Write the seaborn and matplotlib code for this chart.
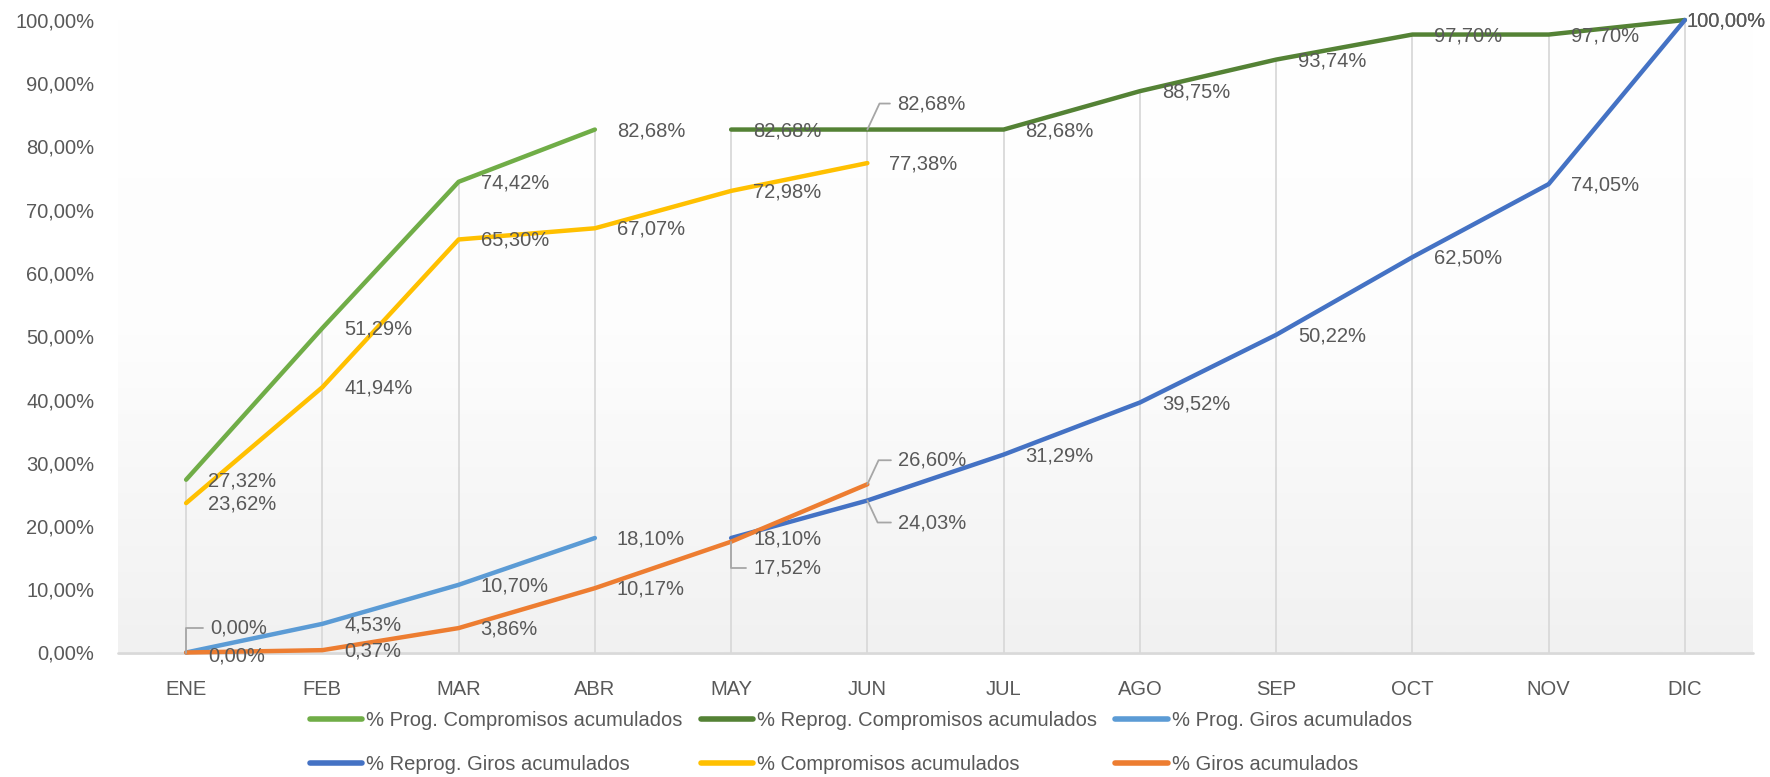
import numpy as np
import pandas as pd
import matplotlib
matplotlib.use('Agg')
import matplotlib.pyplot as plt
from matplotlib.colors import LinearSegmentedColormap
from matplotlib.ticker import FuncFormatter
import seaborn as sns

## Datos
meses = ['ENE', 'FEB', 'MAR', 'ABR', 'MAY', 'JUN', 'JUL', 'AGO', 'SEP', 'OCT', 'NOV', 'DIC']
nan = np.nan
prog_compromisos = [27.32, 51.29, 74.42, 82.68, nan, nan, nan, nan, nan, nan, nan, nan]
reprog_compromisos = [nan, nan, nan, nan, 82.68, 82.68, 82.68, 88.75, 93.74, 97.70, 97.70, 100.00]
prog_giros = [0.00, 4.53, 10.70, 18.10, nan, nan, nan, nan, nan, nan, nan, nan]
reprog_giros = [nan, nan, nan, nan, 18.10, 24.03, 31.29, 39.52, 50.22, 62.50, 74.05, 100.00]
compromisos = [23.62, 41.94, 65.30, 67.07, 72.98, 77.38, nan, nan, nan, nan, nan, nan]
giros = [0.00, 0.37, 3.86, 10.17, 17.52, 26.60, nan, nan, nan, nan, nan, nan]

series = {
    '% Prog. Compromisos acumulados': prog_compromisos,
    '% Reprog. Compromisos acumulados': reprog_compromisos,
    '% Prog. Giros acumulados': prog_giros,
    '% Reprog. Giros acumulados': reprog_giros,
    '% Compromisos acumulados': compromisos,
    '% Giros acumulados': giros,
}
colores = ['#70AD47', '#548235', '#5B9BD5', '#4472C4', '#FFC000', '#ED7D31']
nombres = list(series.keys())
paleta = dict(zip(nombres, colores))

# tabla larga para seaborn
filas = []
for nombre, valores in series.items():
    for i, v in enumerate(valores):
        if not np.isnan(v):
            filas.append({'x': i, 'mes': meses[i], 'valor': v, 'serie': nombre})
df = pd.DataFrame(filas)

sns.set_style('white')
plt.rcParams['font.family'] = ['Liberation Sans', 'DejaVu Sans']
gris_texto = '#595959'
fs = 14.5

fig = plt.figure(figsize=(17.7, 7.77), dpi=100)
ax = fig.add_axes([118 / 1770, 1 - 652.5 / 777, (1753 - 118) / 1770, (652.5 - 20) / 777])

# fondo degradado del area de trazado
cmap_fondo = LinearSegmentedColormap.from_list('fondo', ['#FFFFFF', '#FDFDFD', '#F1F1F1'])
ax.imshow(np.linspace(0, 1, 256).reshape(-1, 1), extent=[-0.5, 11.5, 0, 100],
          cmap=cmap_fondo, aspect='auto', zorder=0)

# lineas de caida
matriz = np.array(list(series.values()))
topes = np.nanmax(matriz, axis=0)
ax.vlines(np.arange(len(meses)), 0, topes, color='#D9D9D9', lw=1.3, zorder=1)
ax.axhline(0, color='#D9D9D9', lw=2, zorder=1)

sns.lineplot(data=df, x='x', y='valor', hue='serie', hue_order=nombres, palette=paleta,
             linewidth=3.2, ax=ax, sort=False, zorder=3)
for ln in ax.lines:
    ln.set_clip_on(False)
    ln.set_solid_capstyle('round')

# etiquetas de datos
especiales = {
    ('% Reprog. Compromisos acumulados', 'JUN'): (30, 26, 65),
    ('% Giros acumulados', 'JUN'): (31, 24, 65),
    ('% Reprog. Giros acumulados', 'JUN'): (31, -22, -65),
    ('% Giros acumulados', 'MAY'): (22, -26, 90),
    ('% Prog. Giros acumulados', 'ENE'): (24, 25, 90),
}
for nombre, valores in series.items():
    for i, v in enumerate(valores):
        if np.isnan(v):
            continue
        txt = f'{v:.2f}'.replace('.', ',') + '%'
        clave = (nombre, meses[i])
        if clave in especiales:
            dx, dy, ang = especiales[clave]
            ax.annotate(txt, (i, v), xytext=(dx, dy), textcoords='offset pixels',
                        ha='left', va='center', fontsize=fs, color=gris_texto, zorder=5,
                        arrowprops=dict(arrowstyle='-', color='#A6A6A6', lw=1.3,
                                        shrinkA=3, shrinkB=0, relpos=(0, 0.5),
                                        connectionstyle=f'angle,angleA=0,angleB={ang},rad=0'))
        else:
            dx = 2 if meses[i] == 'DIC' else 22
            dy = -3 if (v == 0) else -1
            ax.annotate(txt, (i, v), xytext=(dx, dy), textcoords='offset pixels',
                        ha='left', va='center', fontsize=fs, color=gris_texto, zorder=5)

ax.set_xlim(-0.5, 11.5)
ax.set_ylim(0, 100)
ax.set_xticks(range(len(meses)))
ax.set_xticklabels(meses)
ax.set_yticks(np.arange(0, 101, 10))
ax.yaxis.set_major_formatter(FuncFormatter(lambda v, p: f'{v:.2f}'.replace('.', ',') + '%'))
ax.tick_params(axis='both', length=0, labelsize=fs, labelcolor=gris_texto)
ax.tick_params(axis='x', pad=20)
ax.tick_params(axis='y', pad=17)
ax.set_xlabel('')
ax.set_ylabel('')
for s in ax.spines.values():
    s.set_visible(False)

# leyenda en dos filas, tres columnas
h, l = ax.get_legend_handles_labels()
ax.get_legend().remove()
orden = [0, 3, 1, 4, 2, 5]
for hh in h:
    hh.set_linewidth(4)
fig.legend([h[k] for k in orden], [l[k] for k in orden], ncol=3, frameon=False,
           loc='upper left', bbox_to_anchor=(300 / 1770, 1 - 701 / 777), borderpad=0,
           fontsize=fs, labelcolor=gris_texto, handlelength=2.6, handletextpad=0.2,
           columnspacing=0.9, labelspacing=1.25)

fig.savefig('out.png', dpi=100)
